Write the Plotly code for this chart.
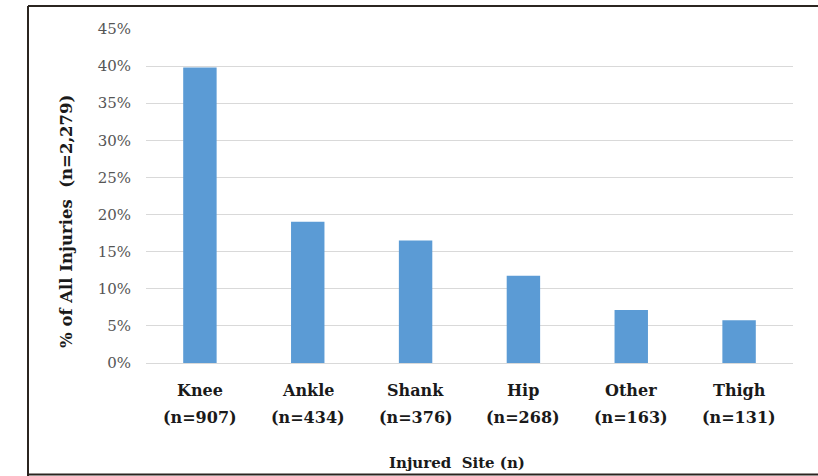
import plotly.graph_objects as go

# Injury counts by anatomical site
sites = ["Knee", "Ankle", "Shank", "Hip", "Other", "Thigh"]
counts = [907, 434, 376, 268, 163, 131]
total_injuries = 2279
pct = [c / total_injuries * 100 for c in counts]

tick_vals = [0, 5, 10, 15, 20, 25, 30, 35, 40, 45]
tick_text = [f"{v}%" for v in tick_vals]

serif = "DejaVu Serif, Liberation Serif, serif"
ink = "#1a1a1a"

fig = go.Figure(
    go.Bar(
        x=sites,
        y=pct,
        marker=dict(color="#5b9bd5", line=dict(width=0)),
    )
)

L, R, T, B = 146, 25, 29, 113
W, H = 818, 476
pw, ph = W - L - R, H - T - B

def px_x(x):
    return (x - L) / pw

def px_y(y):
    return (H - B - y) / ph

annotations = []
# Two-line category labels under each bar: site name, then its count
for s, c in zip(sites, counts):
    annotations.append(dict(
        text=f"<b>{s}</b>", xref="x", yref="paper", x=s, y=px_y(390),
        xanchor="center", yanchor="middle", showarrow=False,
        font=dict(family=serif, size=16, color=ink),
    ))
    annotations.append(dict(
        text=f"<b>(n={c})</b>", xref="x", yref="paper", x=s, y=px_y(417),
        xanchor="center", yanchor="middle", showarrow=False,
        font=dict(family=serif, size=16, color=ink),
    ))

annotations += [
    dict(
        text="<b>% of All Injuries  (n=2,279)</b>",
        xref="paper", yref="paper",
        x=px_x(66), y=px_y(222),
        xanchor="center", yanchor="middle",
        textangle=-90,
        showarrow=False,
        font=dict(family=serif, size=16.5, color=ink),
    ),
    dict(
        text="<b>Injured  Site (n)</b>",
        xref="paper", yref="paper",
        x=px_x(457), y=px_y(463),
        xanchor="center", yanchor="middle",
        showarrow=False,
        font=dict(family=serif, size=15, color=ink),
    ),
]

fig.update_layout(
    width=W,
    height=H,
    margin=dict(l=L, r=R, t=T, b=B),
    paper_bgcolor="white",
    plot_bgcolor="white",
    bargap=0.69,
    showlegend=False,
    xaxis=dict(
        showticklabels=False,
        showgrid=False,
        showline=False,
        ticks="",
    ),
    yaxis=dict(
        range=[0, 45],
        tickmode="array",
        tickvals=tick_vals,
        ticktext=tick_text,
        tickfont=dict(family=serif, size=15, color="#555555"),
        showgrid=True,
        gridcolor="#d9d9d9",
        gridwidth=1,
        zeroline=True,
        zerolinecolor="#d9d9d9",
        zerolinewidth=1,
        showline=False,
        ticks="",
        ticklabelstandoff=14,
    ),
    annotations=annotations,
    shapes=[
        dict(type="line", xref="paper", yref="paper",
             x0=px_x(28), x1=px_x(818), y0=px_y(6), y1=px_y(6),
             line=dict(color="#2b2520", width=2)),
        dict(type="line", xref="paper", yref="paper",
             x0=px_x(28), x1=px_x(28), y0=px_y(6), y1=px_y(476),
             line=dict(color="#2b2520", width=2)),
        dict(type="line", xref="paper", yref="paper",
             x0=px_x(28), x1=px_x(818), y0=px_y(474.5), y1=px_y(474.5),
             line=dict(color="#2b2520", width=2)),
    ],
)

fig.write_html("out.html")
